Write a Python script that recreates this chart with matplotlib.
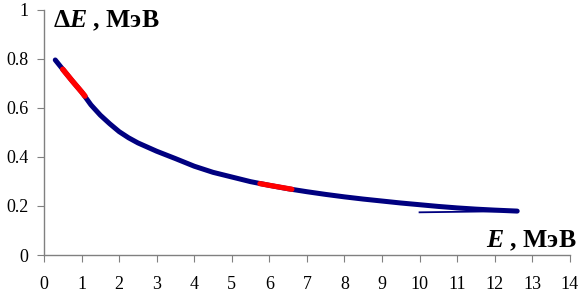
import matplotlib.pyplot as plt
import numpy as np

plt.rcParams['font.family'] = ['Liberation Serif', 'DejaVu Serif']
plt.rcParams['mathtext.fontset'] = 'custom'
plt.rcParams['mathtext.rm'] = 'Liberation Serif:bold'
plt.rcParams['mathtext.it'] = 'Liberation Serif:bold:italic'

# main band
E = [0.3, 0.5, 0.75, 1.0, 1.25, 1.5, 1.75, 2.0, 2.25, 2.5, 3.0, 3.5, 4.0,
     4.5, 5.0, 5.5, 6.0, 6.5, 7.0, 7.5, 8.0, 8.5, 9.0, 9.5, 10.0, 10.5,
     11.0, 11.5, 12.0, 12.6]
dE = [0.795, 0.757, 0.71, 0.665, 0.612, 0.57, 0.535, 0.503, 0.478, 0.457,
      0.423, 0.393, 0.362, 0.337, 0.318, 0.299, 0.284, 0.27, 0.258, 0.247,
      0.237, 0.228, 0.22, 0.212, 0.205, 0.198, 0.192, 0.187, 0.183, 0.179]

# red parts
E_red1 = [0.5, 0.75, 1.0, 1.09]
dE_red1 = [0.757, 0.71, 0.665, 0.648]
E_red2 = [5.75, 6.0, 6.3, 6.6]
dE_red2 = [0.291, 0.284, 0.276, 0.268]

# thin lower branch
E_low = [10.0, 10.5, 11.0, 11.5, 12.0, 12.5]
dE_low = [0.174, 0.175, 0.176, 0.177, 0.178, 0.179]

fig = plt.figure(figsize=(5.82, 2.97), dpi=100)
ax = fig.add_axes([0.0756, 0.1414, 0.9034, 0.826])

navy = '#000080'
ax.plot(E, dE, color=navy, lw=3.6, solid_capstyle='round',
        solid_joinstyle='round')
ax.plot(E_low, dE_low, color=navy, lw=1.3)
ax.plot(E_red1, dE_red1, color='#ff0000', lw=4.0, solid_capstyle='round')
ax.plot(E_red2, dE_red2, color='#ff0000', lw=3.8, solid_capstyle='round')

ax.set_xlim(0, 14)
ax.set_ylim(0, 1)
ax.set_xticks(range(0, 15))
ax.set_yticks([0, 0.2, 0.4, 0.6, 0.8, 1])
ax.set_yticklabels(['0', '0.2', '0.4', '0.6', '0.8', '1'])

for s in ['top', 'right']:
    ax.spines[s].set_visible(False)
for s in ['left', 'bottom']:
    ax.spines[s].set_color('#808080')
    ax.spines[s].set_linewidth(1.0)

ax.tick_params(axis='x', direction='out', length=5, color='#808080',
               labelsize=13, pad=10)
ax.tick_params(axis='y', direction='out', length=5, color='#808080',
               labelsize=13, pad=6)

fig.text(0.091, 0.909, r'$\Delta E$ , МэВ', fontsize=18.5,
         fontweight='bold', va='baseline', ha='left')
fig.text(0.991, 0.168, r'$E$ , МэВ', fontsize=18.5,
         fontweight='bold', va='baseline', ha='right')

fig.savefig('out.png', dpi=100)
